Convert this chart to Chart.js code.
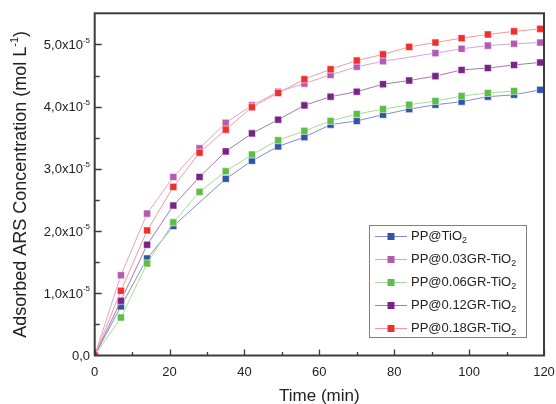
<!DOCTYPE html>
<html><head><meta charset="utf-8">
<script src="https://cdn.jsdelivr.net/npm/chart.js@4/dist/chart.umd.min.js"></script>
<style>html,body{margin:0;padding:0;background:#fff}</style>
</head><body>
<canvas id="c" width="556" height="404"></canvas>
<script>
// Time (min)
const times = [0,7,14,21,28,35,42,49,56,63,70,77,84,91,98,105,112,119];
// Adsorbed ARS concentration, in units of 10^-5 mol L^-1
const ppTiO2    = [0,0.79,1.56,2.08,null,2.84,3.13,3.36,3.51,3.71,3.77,3.87,3.96,4.03,4.08,4.16,4.19,4.27];
const pp003GR   = [0,1.29,2.28,2.87,3.33,3.74,4.02,4.24,4.37,4.51,4.64,4.73,null,4.86,4.93,4.98,5.01,5.03];
const pp006GR   = [0,0.61,1.48,2.14,2.63,2.96,3.23,3.46,3.61,3.77,3.88,3.96,4.03,4.09,4.17,4.22,4.25,null];
const pp012GR   = [0,0.88,1.78,2.41,2.87,3.28,3.57,3.79,4.02,4.16,4.24,4.36,4.42,4.49,4.59,4.62,4.67,4.71];
const pp018GR   = [0,1.04,2.01,2.71,3.26,3.63,3.99,4.22,4.44,4.60,4.74,4.84,4.96,5.03,5.10,5.16,5.21,5.25];
const seriesNames = ['PP@TiO₂','PP@0.03GR-TiO₂','PP@0.06GR-TiO₂','PP@0.12GR-TiO₂','PP@0.18GR-TiO₂'];
const seriesValues = [ppTiO2, pp003GR, pp006GR, pp012GR, pp018GR];
const xTickValues = [0,20,40,60,80,100,120];
const xTickLabels = ['0','20','40','60','80','100','120'];
const yTickValues = [0,1,2,3,4,5];
const yTickLabels = ['0,0','1,0x10','2,0x10','3,0x10','4,0x10','5,0x10'];
const yTickExponent = '-5';
const xTitle = 'Time (min)';
const yTitle = ['Adsorbed ARS Concentration (mol L', '-1', ')'];

const markerColors = ['#3354a6','#b35bb0','#5cbe46','#782486','#ef302e'];
const lineColors   = ['#7f8fcc','#d9a3da','#a6dc98','#a579b1','#f59a9a'];
const drawOrder    = [5,4,3,2,1];

const FONT = '"Liberation Sans", Arial, sans-serif';
const TXT = '#222';

const datasets = seriesNames.map((name, k) => ({
  label: name,
  data: times.map((t, i) => ({x: t, y: seriesValues[k][i]})),
  borderColor: lineColors[k],
  borderWidth: 1,
  pointStyle: 'rect',
  pointRadius: 5,
  pointHoverRadius: 5,
  pointBackgroundColor: markerColors[k],
  pointBorderColor: 'rgba(255,255,255,0.55)',
  pointBorderWidth: 1,
  spanGaps: true,
  tension: 0,
  fill: false,
  order: drawOrder[k]
}));

function drawSubText(ctx, parts, x, y) {
  let cx = x;
  for (const p of parts) {
    ctx.font = (p.bold ? 'bold ' : '') + p.size + 'px ' + FONT;
    ctx.fillText(p.t, cx, y + (p.dy || 0));
    cx += ctx.measureText(p.t).width;
  }
  return cx;
}

const deco = {
  id: 'deco',
  afterDatasetsDraw(chart) {
    const ctx = chart.ctx, a = chart.chartArea;
    const xs = chart.scales.x, ys = chart.scales.y;
    ctx.save();
    // frame
    ctx.strokeStyle = '#3c3c3c';
    ctx.lineWidth = 2;
    ctx.strokeRect(a.left, a.top, a.right - a.left, a.bottom - a.top);
    // ticks inward
    ctx.lineWidth = 1.3;
    ctx.beginPath();
    for (let v = 0; v <= 120; v += 10) {
      const px = Math.round(xs.getPixelForValue(v)) + 0.5;
      const len = (v % 20 === 0) ? 6 : 3.5;
      ctx.moveTo(px, a.bottom); ctx.lineTo(px, a.bottom - len);
    }
    for (let v = 0.5; v <= 5; v += 0.5) {
      const py = Math.round(ys.getPixelForValue(v)) + 0.5;
      const len = (Math.abs(v - Math.round(v)) < 1e-6) ? 7 : 5;
      ctx.moveTo(a.left, py); ctx.lineTo(a.left + len, py);
    }
    ctx.stroke();

    ctx.fillStyle = TXT;
    // x tick labels
    ctx.textAlign = 'center'; ctx.textBaseline = 'middle';
    ctx.font = '13px ' + FONT;
    xTickValues.forEach((v, i) => {
      ctx.fillText(xTickLabels[i], xs.getPixelForValue(v), 372);
    });
    // y tick labels
    ctx.textAlign = 'left';
    yTickValues.forEach((v, i) => {
      const py = ys.getPixelForValue(v) + 1;
      const right = 90;
      if (v === 0) {
        ctx.font = '13px ' + FONT;
        const w = ctx.measureText(yTickLabels[i]).width;
        ctx.fillText(yTickLabels[i], right - w, py);
      } else {
        ctx.font = '8px ' + FONT;
        const we = ctx.measureText(yTickExponent).width;
        ctx.font = '13px ' + FONT;
        const wm = ctx.measureText(yTickLabels[i]).width;
        drawSubText(ctx, [{t: yTickLabels[i], size: 13}, {t: yTickExponent, size: 8, dy: -5}], right - we - wm, py);
      }
    });
    // x title
    ctx.textAlign = 'center';
    ctx.font = '17px ' + FONT;
    ctx.fillText(xTitle, (a.left + a.right) / 2, 396);
    // y title rotated
    ctx.save();
    ctx.translate(21, (a.top + a.bottom) / 2);
    ctx.rotate(-Math.PI / 2);
    ctx.textAlign = 'left';
    const parts = [{t: yTitle[0], size: 18}, {t: yTitle[1], size: 11, dy: -6}, {t: yTitle[2], size: 18}];
    let tw = 0;
    for (const p of parts) { ctx.font = p.size + 'px ' + FONT; tw += ctx.measureText(p.t).width; }
    drawSubText(ctx, parts, -tw / 2, 0);
    ctx.restore();

    // legend
    const lx = 369.5, ly = 225.5, lw = 157, lh = 112;
    ctx.fillStyle = '#fff';
    ctx.fillRect(lx, ly, lw, lh);
    ctx.strokeStyle = '#808080'; ctx.lineWidth = 1;
    ctx.strokeRect(lx, ly, lw, lh);
    seriesNames.forEach((name, k) => {
      const y = 236 + k * 23;
      ctx.strokeStyle = lineColors[k]; ctx.lineWidth = 1;
      ctx.beginPath(); ctx.moveTo(375, y + 0.5); ctx.lineTo(407, y + 0.5); ctx.stroke();
      ctx.fillStyle = markerColors[k];
      ctx.fillRect(387.5, y - 3, 7, 7);
      ctx.fillStyle = TXT;
      ctx.textAlign = 'left'; ctx.textBaseline = 'middle';
      const segs = name.split('₂');
      drawSubText(ctx, [{t: segs[0], size: 13}, {t: '2', size: 9, dy: 5}], 411, y);
    });
    ctx.restore();
  }
};

new Chart(document.getElementById('c'), {
  type: 'line',
  data: { datasets },
  options: {
    responsive: false,
    animation: false,
    devicePixelRatio: 1,
    layout: { padding: { top: 13.3, right: 12, left: 0, bottom: 0 } },
    plugins: { legend: { display: false }, tooltip: { enabled: false } },
    scales: {
      x: { type: 'linear', min: 0, max: 120,
           ticks: { display: false }, grid: { display: false }, border: { display: false },
           afterFit(s) { s.height = 48.5; } },
      y: { type: 'linear', min: 0, max: 5.5,
           ticks: { display: false }, grid: { display: false }, border: { display: false },
           afterFit(s) { s.width = 94.7; } }
    }
  },
  plugins: [deco]
});
</script>
</body></html>
